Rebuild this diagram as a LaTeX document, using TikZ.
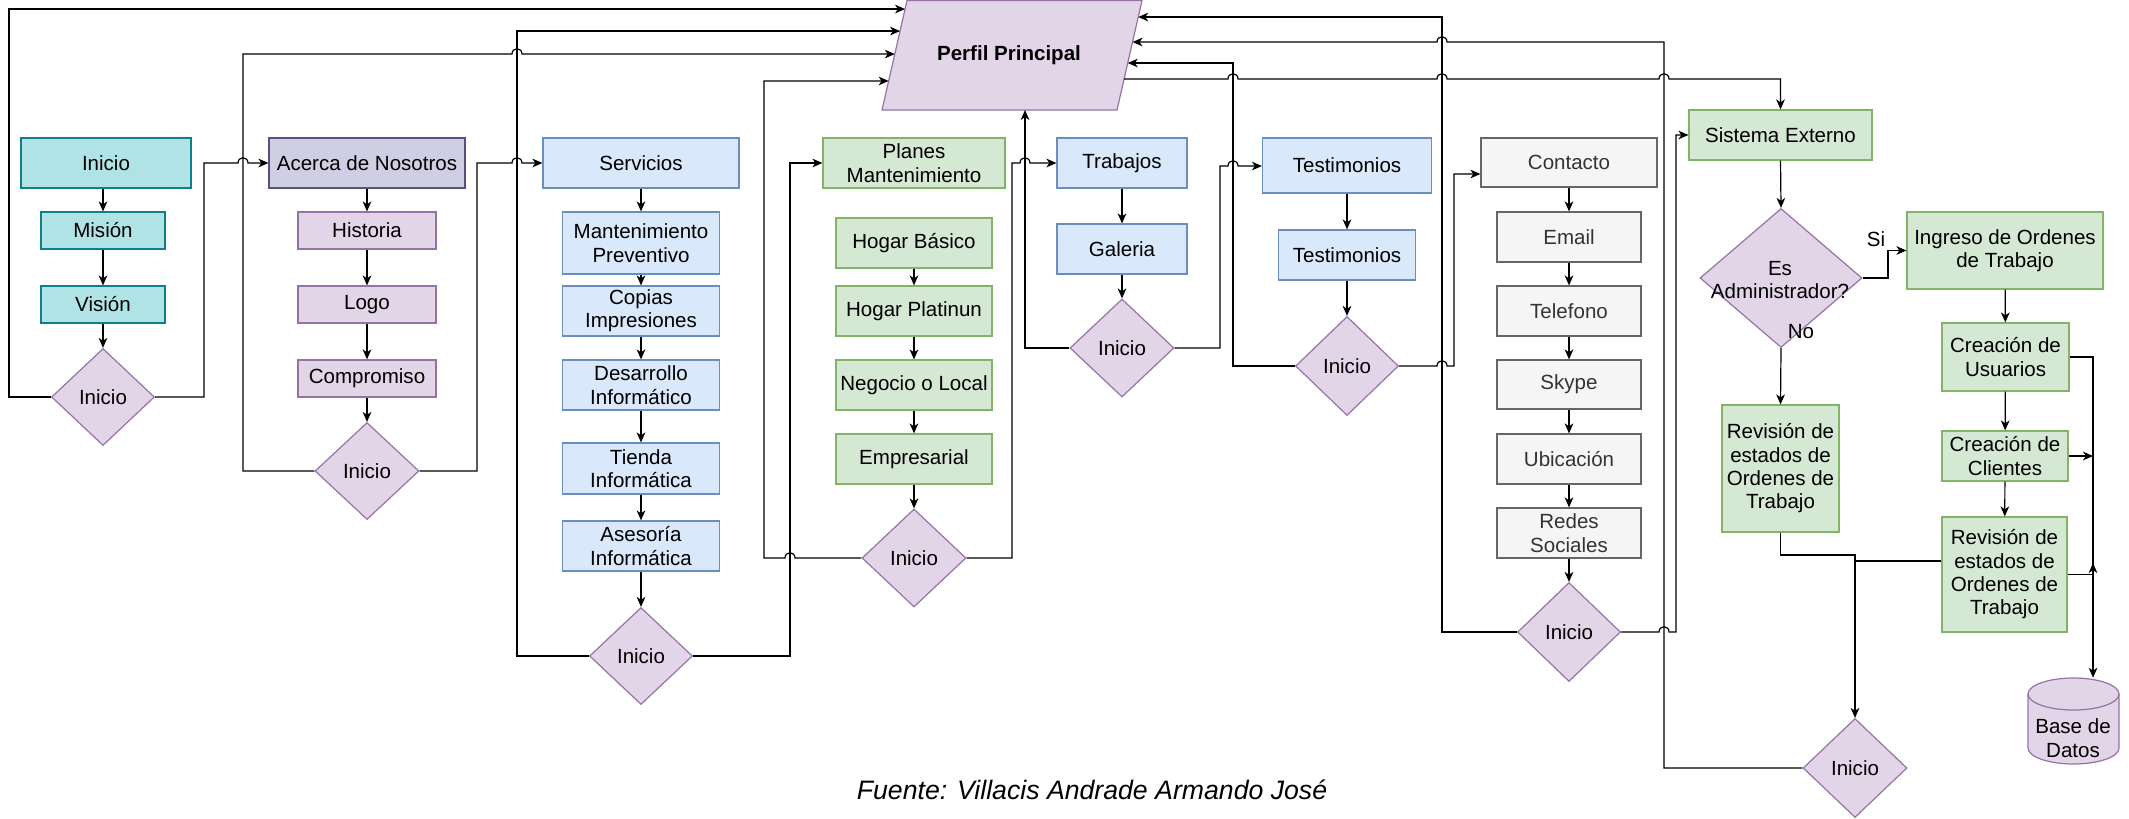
\documentclass[tikz,border=0pt]{standalone}
\usepackage{fontspec}
\setmainfont{Liberation Sans}
\usetikzlibrary{shapes.geometric,arrows.meta,calc}
\definecolor{tealF}{HTML}{B0E3E6}
\definecolor{tealD}{HTML}{0E8088}
\definecolor{acF}{HTML}{D0CEE2}
\definecolor{acD}{HTML}{56517E}
\definecolor{puF}{HTML}{E1D5E7}
\definecolor{puD}{HTML}{9673A6}
\definecolor{blF}{HTML}{DAE8FC}
\definecolor{blD}{HTML}{6C8EBF}
\definecolor{grF}{HTML}{D5E8D4}
\definecolor{grD}{HTML}{82B366}
\definecolor{gyF}{HTML}{F5F5F5}
\definecolor{gyD}{HTML}{666666}
\definecolor{gyT}{HTML}{333333}
\newcommand{\boxfnt}{\fontsize{15.4}{17.5}\selectfont}
\tikzset{
  sz/.style 2 args={minimum width=#1*0.75pt,minimum height=#2*0.75pt},
  base/.style={rectangle,line width=0.9pt,inner sep=0pt,align=center,font=\boxfnt},
  tbox/.style={base,fill=tealF,draw=tealD},
  abox/.style={base,fill=acF,draw=acD},
  pbox/.style={base,fill=puF,draw=puD},
  bbox/.style={base,fill=blF,draw=blD},
  gbox/.style={base,fill=grF,draw=grD},
  ybox/.style={base,fill=gyF,draw=gyD,text=gyT},
  pdia/.style={diamond,line width=0.9pt,inner sep=0pt,align=center,font=\boxfnt,fill=puF,draw=puD},
  ln/.style={line width=0.9pt,draw=black},
  arr/.style={ln,-{Stealth[length=7.5pt,width=6.5pt,inset=2.2pt]}},
  hopR/.style args={#1/#2}{insert path={-- (#1-5,#2) .. controls (#1-5,#2-7) and (#1+5,#2-7) .. (#1+5,#2)}},
  hopL/.style args={#1/#2}{insert path={-- (#1+5,#2) .. controls (#1+5,#2-7) and (#1-5,#2-7) .. (#1-5,#2)}},
  lbl/.style={font=\boxfnt,inner sep=0pt,align=center}
}
\begin{document}
\begin{tikzpicture}[x=0.75pt,y=-0.75pt]
\useasboundingbox (0,0) rectangle (2129,818);

% ---------- Perfil Principal (parallelogram) ----------
\coordinate (pTL) at (907,0.5);
\coordinate (pTR) at (1142,0.5);
\coordinate (pBR) at (1117,110);
\coordinate (pBL) at (882,110);
\filldraw[fill=puF,draw=puD,line width=0.9pt] (pTL) -- (pTR) -- (pBR) -- (pBL) -- cycle;
\node[font=\bfseries\boxfnt,inner sep=0pt] (perfil) at (1009,55) {Perfil Principal};
\coordinate (pL1) at ($(pTL)!0.078!(pBL)$);
\coordinate (pL2) at ($(pTL)!0.279!(pBL)$);
\coordinate (pL3) at ($(pTL)!0.489!(pBL)$);
\coordinate (pL4) at ($(pTL)!0.735!(pBL)$);
\coordinate (pR1) at ($(pTR)!0.151!(pBR)$);
\coordinate (pR2) at ($(pTR)!0.379!(pBR)$);
\coordinate (pR3) at ($(pTR)!0.571!(pBR)$);
\coordinate (pR4) at ($(pTR)!0.717!(pBR)$);

% ---------- Column 1 ----------
\node[tbox,sz={170}{50}] (ini) at (106,163) {Inicio};
\node[tbox,sz={124}{37}] (mis) at (103,230.5) {Misión};
\node[tbox,sz={124}{37}] (vis) at (103,304.5) {Visión};
\node[pdia,sz={103}{97}] (d1) at (103,397) {Inicio};

% ---------- Column 2 ----------
\node[abox,sz={196}{50}] (ace) at (367,163) {Acerca de Nosotros};
\node[pbox,sz={138}{37}] (his) at (367,230.5) {Historia};
\node[pbox,sz={138}{37}] (logo) at (367,304.5) {Logo};
\node[pbox,sz={138}{37}] (com) at (367,378.5) {Compromiso};
\node[pdia,sz={104}{97}] (d2) at (367,471) {Inicio};

% ---------- Column 3 ----------
\node[bbox,sz={196}{50}] (ser) at (641,163) {Servicios};
\node[bbox,sz={157}{62}] (man) at (641,243) {Mantenimiento\\Preventivo};
\node[bbox,sz={157}{50}] (cop) at (641,311) {Copias\\Impresiones};
\node[bbox,sz={157}{50}] (des) at (641,385) {Desarrollo\\Informático};
\node[bbox,sz={157}{51}] (tie) at (641,468.5) {Tienda\\Informática};
\node[bbox,sz={157}{50}] (ase) at (641,546) {Asesoría\\Informática};
\node[pdia,sz={103}{97}] (d3) at (641,656) {Inicio};

% ---------- Column 4 ----------
\node[gbox,sz={182}{50}] (pla) at (914,163) {Planes\\Mantenimiento};
\node[gbox,sz={156}{50}] (hb) at (914,243) {Hogar Básico};
\node[gbox,sz={156}{50}] (hp) at (914,311) {Hogar Platinun};
\node[gbox,sz={156}{50}] (nl) at (914,385) {Negocio o Local};
\node[gbox,sz={156}{50}] (emp) at (914,459) {Empresarial};
\node[pdia,sz={104}{98}] (d4) at (914,558) {Inicio};

% ---------- Column 5 ----------
\node[bbox,sz={130}{50}] (tra) at (1122,163) {Trabajos};
\node[bbox,sz={130}{50}] (gal) at (1122,249) {Galeria};
\node[pdia,sz={104}{98}] (d5) at (1122,348) {Inicio};

% ---------- Column 6 ----------
\node[bbox,sz={169}{55}] (tes) at (1347,165.5) {Testimonios};
\node[bbox,sz={137}{50}] (tes2) at (1347,255) {Testimonios};
\node[pdia,sz={103}{99}] (d6) at (1347,366) {Inicio};

% ---------- Column 7 ----------
\node[ybox,sz={176}{49}] (con) at (1569,162.5) {Contacto};
\node[ybox,sz={144}{50}] (ema) at (1569,237) {Email};
\node[ybox,sz={144}{50}] (tel) at (1569,311) {Telefono};
\node[ybox,sz={144}{49}] (sky) at (1569,384.5) {Skype};
\node[ybox,sz={144}{50}] (ubi) at (1569,459) {Ubicación};
\node[ybox,sz={144}{50}] (red) at (1569,533) {Redes\\Sociales};
\node[pdia,sz={103}{99}] (d7) at (1569,632) {Inicio};

% ---------- Right section ----------
\node[gbox,sz={183}{50}] (sis) at (1780.5,135) {Sistema Externo};
\node[pdia,sz={162}{139}] (adm) at (1781,278) {};
\node[lbl] (admt) at (1780,280) {Es\\Administrador?};
\node[lbl] (si) at (1876,239) {Si};
\node[lbl] (no) at (1801,332) {No};
\node[gbox,sz={196}{77}] (ing) at (2005,250.5) {Ingreso de Ordenes\\de Trabajo};
\node[gbox,sz={127}{68}] (usu) at (2005.5,357) {Creación de\\Usuarios};
\node[gbox,sz={126}{50}] (cli) at (2005,456) {Creación de\\Clientes};
\node[gbox,sz={125}{115}] (rev2) at (2004.5,574.5) {Revisión de\\estados de\\Ordenes de\\Trabajo};
\node[gbox,sz={117}{127}] (rev1) at (1780.5,468.5) {Revisión de\\estados de\\Ordenes de\\Trabajo};
\node[pdia,sz={104}{99}] (d8) at (1855,768) {Inicio};

% Base de Datos cylinder
\path[fill=puF,draw=puD,line width=0.9pt] (2028,694) -- (2028,748)
  arc[start angle=180,end angle=360,x radius=34.125pt,y radius=12pt] -- (2119,694)
  arc[start angle=0,end angle=180,x radius=34.125pt,y radius=12pt] -- cycle;
\draw[puD,line width=0.9pt] (2028,694) arc[start angle=180,end angle=360,x radius=34.125pt,y radius=12pt];
\node[sz={91}{86},inner sep=0pt] (db) at (2073.5,721) {};
\node[lbl] (dbt) at (2073,738) {Base de\\Datos};
\coordinate (dbup) at (2093,563);

% ---------- Connectors: chains ----------
\draw[arr] (mis.north |- ini.south) -- (mis.north);
\draw[arr] (mis) -- (vis);
\draw[arr] (vis) -- (d1);
\draw[arr] (ace) -- (his);
\draw[arr] (his) -- (logo);
\draw[arr] (logo) -- (com);
\draw[arr] (com) -- (d2);
\draw[arr] (ser) -- (man);
\draw[arr] (man) -- (cop);
\draw[arr] (cop) -- (des);
\draw[arr] (des) -- (tie);
\draw[arr] (tie) -- (ase);
\draw[arr] (ase) -- (d3);
\draw[arr] (hb) -- (hp);
\draw[arr] (hp) -- (nl);
\draw[arr] (nl) -- (emp);
\draw[arr] (emp) -- (d4);
\draw[arr] (tra) -- (gal);
\draw[arr] (gal) -- (d5);
\draw[arr] (tes) -- (tes2);
\draw[arr] (tes2) -- (d6);
\draw[arr] (con) -- (ema);
\draw[arr] (ema) -- (tel);
\draw[arr] (tel) -- (sky);
\draw[arr] (sky) -- (ubi);
\draw[arr] (ubi) -- (red);
\draw[arr] (red) -- (d7);

% ---------- Connectors: loops ----------
\draw[arr] (d1.west) -- (9,397) -- (9,0 |- pL1) -- (pL1);
\draw[arr] (d1.east) -- (204,397) -- (204,163) [hopR={243/163}] -- (ace.west);
\draw[arr] (d2.west) -- (243,471) -- (243,0 |- pL3) [hopR={517/54}] -- (pL3);
\draw[arr] (d2.east) -- (477,471) -- (477,163) [hopR={517/163}] -- (ser.west);
\draw[arr] (d3.west) -- (517,656) -- (517,0 |- pL2) -- (pL2);
\draw[arr] (d3.east) -- (790,656) -- (790,163) -- (pla.west);
\draw[arr] (d4.west) [hopL={790/558}] -- (764,558) -- (764,0 |- pL4) -- (pL4);
\draw[arr] (d4.east) -- (1012,558) -- (1012,163) [hopR={1025/163}] -- (tra.west);
\draw[arr] (d5.west) -- (1025,348) -- (1025,0 |- pBL);
\draw[arr] (d5.east) -- (1220,348) -- (1220,166) [hopR={1233/166}] -- (tes.west |- 0,166);
\draw[arr] (d6.west) -- (1233,366) -- (1233,0 |- pR3) -- (pR3);
\draw[arr] (d6.east) [hopR={1442/366}] -- (1454,366) -- (1454,174) -- (con.west |- 0,174);
\draw[arr] (d7.west) -- (1442,632) -- (1442,0 |- pR1) -- (pR1);
\draw[arr] (d7.east) [hopR={1664/632}] -- (1676,632) -- (1676,0 |- sis.west) -- (sis.west);
\draw[arr] (d8.west) -- (1664,768) -- (1664,0 |- pR2) [hopL={1442/42}] -- (pR2);
\draw[arr] (pR4) [hopR={1233/79}] [hopR={1442/79}] [hopR={1664/79}] -- (sis.north |- 0,79) -- (sis.north);

% ---------- Connectors: right section ----------
\draw[arr] (sis.south) -- (adm.north);
\draw[arr] (adm.east) -- (1888,278) -- (1888,0 |- ing.west) -- (ing.west);
\draw[arr] (adm.south) -- (rev1.north);
\draw[arr] (ing) -- (usu);
\draw[arr] (usu) -- (cli);
\draw[arr] (cli) -- (rev2);
\draw[arr] (usu.east) -- (2093,0 |- usu.east) -- (db.north -| 2093,0);
\draw[arr] (cli.east) -- (2093,0 |- cli.east);
\draw[arr] (rev2.east) -- (2093,0 |- rev2.east) -- (dbup);
\draw[arr] (rev1.south) -- (1780.5,555) -- (1855,555) -- (d8.north);
\draw[ln] (rev2.west |- 0,561) -- (1855,561);

% ---------- Source ----------
\node[font=\itshape\fontsize{20}{24}\selectfont,inner sep=0pt] (fuente) at (1092,790) {Fuente: Villacis Andrade Armando José};
\end{tikzpicture}
\end{document}
